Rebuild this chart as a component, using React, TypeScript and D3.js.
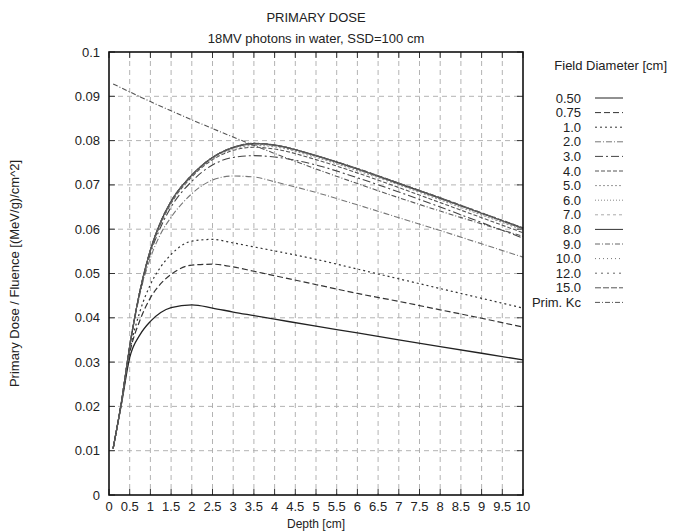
import React from "react";
import * as d3 from "d3";

const W = 674;
const H = 532;

const depths = [0.1, 0.3, 0.5, 0.75, 1, 1.25, 1.5, 2, 2.5, 3, 3.5, 4, 5, 6, 7, 8, 9, 10];

const d050 = [0.0105, 0.0205, 0.031, 0.0362, 0.0392, 0.0412, 0.0423, 0.0429, 0.0422, 0.0413, 0.0405, 0.0397, 0.0381, 0.0366, 0.035, 0.0335, 0.032, 0.0305];
const d075 = [0.0105, 0.0208, 0.032, 0.0395, 0.0445, 0.0477, 0.0498, 0.0519, 0.0521, 0.0515, 0.0505, 0.0495, 0.0475, 0.0455, 0.0437, 0.0418, 0.0399, 0.0379];
const d100 = [0.0105, 0.0208, 0.0325, 0.0415, 0.0475, 0.0515, 0.0543, 0.0573, 0.0577, 0.0569, 0.056, 0.0551, 0.0532, 0.051, 0.0488, 0.0466, 0.0444, 0.0422];
const d200 = [0.0105, 0.021, 0.0333, 0.0455, 0.0535, 0.059, 0.0627, 0.068, 0.0711, 0.072, 0.0718, 0.0707, 0.0683, 0.0655, 0.0626, 0.0597, 0.0567, 0.0537];
const d300 = [0.0105, 0.021, 0.0335, 0.0458, 0.0545, 0.0605, 0.065, 0.0708, 0.0745, 0.0762, 0.0766, 0.0763, 0.0745, 0.0716, 0.0684, 0.065, 0.0615, 0.058];
const d400 = [0.0105, 0.021, 0.0335, 0.046, 0.055, 0.0612, 0.0658, 0.0718, 0.0757, 0.0778, 0.0785, 0.0781, 0.0757, 0.0727, 0.0694, 0.066, 0.0626, 0.0592];
const d500 = [0.0105, 0.021, 0.0336, 0.0461, 0.0551, 0.0614, 0.066, 0.072, 0.0759, 0.0781, 0.0789, 0.0786, 0.0762, 0.0732, 0.07, 0.0666, 0.0632, 0.0598];
const d600 = [0.0105, 0.021, 0.0336, 0.0462, 0.0552, 0.0616, 0.0662, 0.0721, 0.0761, 0.0783, 0.0791, 0.0788, 0.0764, 0.0734, 0.0702, 0.0668, 0.0634, 0.06];
const d700 = [0.0105, 0.021, 0.0336, 0.0462, 0.0553, 0.0617, 0.0663, 0.0722, 0.0762, 0.0784, 0.0792, 0.0789, 0.0765, 0.0735, 0.0703, 0.0669, 0.0635, 0.0601];
const d800 = [0.0105, 0.021, 0.0336, 0.0462, 0.0553, 0.0617, 0.0663, 0.0722, 0.0762, 0.0784, 0.0793, 0.079, 0.0766, 0.0736, 0.0703, 0.067, 0.0636, 0.0602];
const d900 = [0.0105, 0.021, 0.0336, 0.0462, 0.0553, 0.0617, 0.0663, 0.0722, 0.0762, 0.0785, 0.0793, 0.079, 0.0766, 0.0736, 0.0704, 0.067, 0.0636, 0.0602];
const d1000 = [0.0105, 0.021, 0.0336, 0.0462, 0.0553, 0.0617, 0.0663, 0.0722, 0.0762, 0.0785, 0.0794, 0.079, 0.0766, 0.0737, 0.0704, 0.0671, 0.0637, 0.0603];
const d1200 = [0.0105, 0.021, 0.0336, 0.0462, 0.0553, 0.0617, 0.0663, 0.0722, 0.0762, 0.0785, 0.0794, 0.079, 0.0766, 0.0737, 0.0704, 0.0671, 0.0637, 0.0603];
const d1500 = [0.0105, 0.021, 0.0336, 0.0462, 0.0553, 0.0617, 0.0663, 0.0722, 0.0762, 0.0785, 0.0794, 0.079, 0.0766, 0.0737, 0.0704, 0.0671, 0.0637, 0.0603];

const kcDepths = [0.1, 1, 2, 3, 4, 5, 6, 7, 8, 9, 10];
const kcValues = [0.0928, 0.0888, 0.0847, 0.0808, 0.0771, 0.0736, 0.0703, 0.0671, 0.0641, 0.0612, 0.0584];

const legendLabels = ["0.50", "0.75", "1.0", "2.0", "3.0", "4.0", "5.0", "6.0", "7.0", "8.0", "9.0", "10.0", "12.0", "15.0", "Prim. Kc"];
const seriesValues = [d050, d075, d100, d200, d300, d400, d500, d600, d700, d800, d900, d1000, d1200, d1500];

const xTicks = [0, 0.5, 1, 1.5, 2, 2.5, 3, 3.5, 4, 4.5, 5, 5.5, 6, 6.5, 7, 7.5, 8, 8.5, 9, 9.5, 10];
const yTicks = [0, 0.01, 0.02, 0.03, 0.04, 0.05, 0.06, 0.07, 0.08, 0.09, 0.1];

const styles = [
  { dash: "none", color: "#222", w: 1.3 },
  { dash: "6,3", color: "#333", w: 1.2 },
  { dash: "2,3", color: "#333", w: 1.2 },
  { dash: "6,2,1,2", color: "#777", w: 1.1 },
  { dash: "8,3,2,3", color: "#444", w: 1.1 },
  { dash: "4,2", color: "#555", w: 1.1 },
  { dash: "2,2", color: "#999", w: 1.1 },
  { dash: "1,2", color: "#888", w: 1.1 },
  { dash: "3,3", color: "#aaa", w: 1.1 },
  { dash: "none", color: "#333", w: 1.2 },
  { dash: "5,2,1,2", color: "#666", w: 1.1 },
  { dash: "1,3", color: "#777", w: 1.1 },
  { dash: "2,4", color: "#666", w: 1.1 },
  { dash: "6,2", color: "#555", w: 1.1 },
  { dash: "5,2,1,2", color: "#555", w: 1.1 },
];

const FONT = "'Liberation Sans', Arial, Helvetica, sans-serif";

export default function App() {
  const L = 109, R = 523, T = 52, B = 495;
  const x = d3.scaleLinear().domain([0, 10]).range([L, R]);
  const y = d3.scaleLinear().domain([0, 0.1]).range([B, T]);
  const line = d3
    .line<[number, number]>()
    .x((d) => x(d[0]))
    .y((d) => y(d[1]))
    .curve(d3.curveMonotoneX);

  const paths = seriesValues.map((vals) => line(depths.map((d, i) => [d, vals[i]] as [number, number])) || "");
  const kcPath = line(kcDepths.map((d, i) => [d, kcValues[i]] as [number, number])) || "";
  const allPaths = [...paths, kcPath];

  const legX1 = 595, legX2 = 623, legLabelX = 581, legY0 = 98, legStep = 14.6;

  return (
    <svg width={W} height={H} style={{ position: "absolute", left: 0, top: 0, background: "#fff" }} fontFamily={FONT}>
      <rect x={0} y={0} width={W} height={H} fill="#fff" />
      <text x={316} y={22} fontSize={13} textAnchor="middle" fill="#222">PRIMARY DOSE</text>
      <text x={316} y={43} fontSize={13} textAnchor="middle" fill="#222">18MV photons in water, SSD=100 cm</text>

      {/* grid */}
      {xTicks.slice(1, -1).map((t) => (
        <line key={"gx" + t} x1={x(t)} x2={x(t)} y1={T} y2={B} stroke="#aaa" strokeWidth={0.9} strokeDasharray="5,4" />
      ))}
      {yTicks.slice(1, -1).map((t) => (
        <line key={"gy" + t} x1={L} x2={R} y1={y(t)} y2={y(t)} stroke="#aaa" strokeWidth={0.9} strokeDasharray="5,4" />
      ))}

      {/* ticks */}
      {xTicks.map((t) => (
        <g key={"tx" + t}>
          <line x1={x(t)} x2={x(t)} y1={B} y2={B - 6} stroke="#333" strokeWidth={1} />
          <line x1={x(t)} x2={x(t)} y1={T} y2={T + 6} stroke="#333" strokeWidth={1} />
          <text x={x(t)} y={511} fontSize={13} textAnchor="middle" fill="#222">{String(t)}</text>
        </g>
      ))}
      {yTicks.map((t) => (
        <g key={"ty" + t}>
          <line x1={L} x2={L + 6} y1={y(t)} y2={y(t)} stroke="#333" strokeWidth={1} />
          <line x1={R} x2={R - 6} y1={y(t)} y2={y(t)} stroke="#333" strokeWidth={1} />
          <text x={100} y={y(t) + 4.5} fontSize={13} textAnchor="end" fill="#222">{d3.format("~g")(t)}</text>
        </g>
      ))}

      {/* curves */}
      {allPaths.map((p, i) => (
        <path key={"c" + i} d={p} fill="none" stroke={styles[i].color} strokeWidth={styles[i].w} strokeDasharray={styles[i].dash} />
      ))}

      {/* border */}
      <rect x={L} y={T} width={R - L} height={B - T} fill="none" stroke="#111" strokeWidth={1.6} />

      {/* axis labels */}
      <text x={316} y={527.5} fontSize={12} textAnchor="middle" fill="#222">Depth [cm]</text>
      <text transform={`translate(19, ${(T + B) / 2}) rotate(-90)`} fontSize={13} textAnchor="middle" fill="#222">
        Primary Dose / Fluence [(MeV/g)/cm^2]
      </text>

      {/* legend */}
      <text x={667} y={70} fontSize={13} textAnchor="end" fill="#222">Field Diameter [cm]</text>
      {legendLabels.map((lab, i) => (
        <g key={"lg" + i}>
          <text x={legLabelX} y={legY0 + i * legStep + 4.5} fontSize={13} textAnchor="end" fill="#222">{lab}</text>
          <line x1={legX1} x2={legX2} y1={legY0 + i * legStep} y2={legY0 + i * legStep} stroke={styles[i].color} strokeWidth={1} strokeDasharray={styles[i].dash} />
        </g>
      ))}
    </svg>
  );
}
